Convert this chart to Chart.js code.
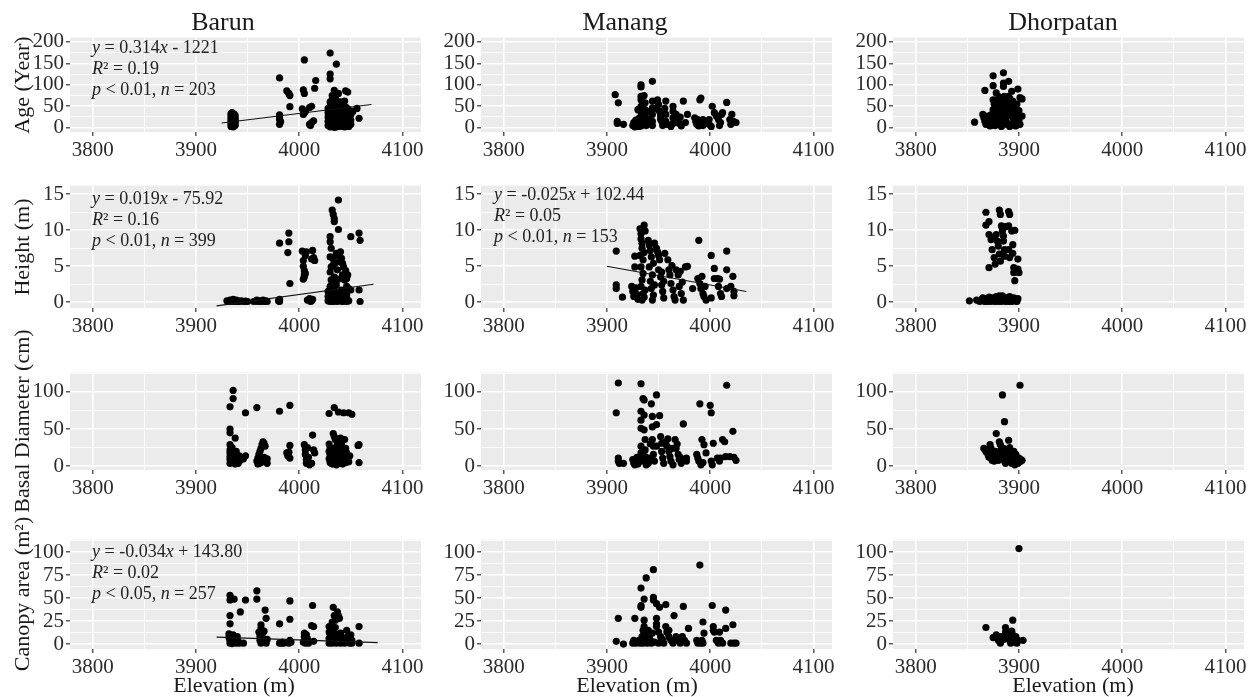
<!DOCTYPE html>
<html><head><meta charset="utf-8">
<script src="https://cdn.jsdelivr.net/npm/chart.js@4.4.0/dist/chart.umd.min.js"></script>
<style>
html,body{margin:0;padding:0;background:#fff;}
#wrap{position:relative;width:1254px;height:697px;overflow:hidden;font-family:'Liberation Serif','Times New Roman',serif;color:#1a1a1a;}
canvas{position:absolute;}
.t{position:absolute;white-space:nowrap;}
</style></head><body><div id="wrap"></div>
<script>
// ---------- labels & ticks ----------
const sites = ['Barun', 'Manang', 'Dhorpatan'];
const variables = ['Age (Year)', 'Height (m)', 'Basal Diameter (cm)', 'Canopy area (m²)'];
const xTitle = 'Elevation (m)';
const elevationTicks = [3800, 3900, 4000, 4100];
const elevationLimits = [3778, 4118];
const ageTicks = [0, 50, 100, 150, 200];
const heightTicks = [0, 5, 10, 15];
const basalTicks = [0, 50, 100];
const canopyTicks = [0, 25, 50, 75, 100];
const ageLimits = [-10, 210];
const heightLimits = [-0.8, 16.2];
const basalLimits = [-5, 126];
const canopyLimits = [-5.4, 113.8];

// ---------- data: [elevation, value] ----------
const barunAge = [[3934,3],[3934,8],[3934,13],[3934,18],[3934,23],[3934,28],[3934,33],[3935,5],[3935,10],[3935,15],[3935,20],[3935,25],[3935,30],[3935,35],[3936,2],[3936,7],[3936,12],[3936,17],[3936,22],[3936,27],[3937,4],[3937,9],[3937,14],[3937,19],[3937,24],[3937,32],[3938,6],[3938,11],[3938,16],[3938,21],[3938,28],
[3981,116],[3981,30],[3981,25],[3981,19],[3981,8],[3982,14],
[3988,86],[3990,80],[3991,75],[3991,49],
[4005,158],[4004,88],[4005,80],[4003,44],[4006,38],[4004,31],[4005,35],
[4010,8],[4012,12],[4014,16],[4010,47],[4012,50],[4011,5],
[4016,110],[4015,92],
[4030,174],[4030,125],[4030,114],[4036,148],[4034,87],
[4028,5],[4028,15],[4028,25],[4028,35],[4028,45],
[4030,2],[4030,10],[4030,20],[4030,30],[4030,40],[4030,50],[4030,60],
[4031,6],[4031,16],[4031,26],[4031,36],[4031,46],[4031,56],
[4032,3],[4032,12],[4032,22],[4032,32],[4032,42],[4032,52],[4032,65],[4032,75],
[4034,1],[4034,9],[4034,18],[4034,28],[4034,38],[4034,48],[4034,58],
[4035,5],[4035,14],[4035,24],[4035,34],[4035,44],[4035,54],[4035,70],
[4036,2],[4036,11],[4036,21],[4036,31],[4036,41],[4036,63],
[4038,6],[4038,16],[4038,26],[4038,36],[4038,46],[4038,56],[4038,80],
[4039,3],[4039,12],[4039,22],[4039,32],[4039,42],[4039,52],
[4040,8],[4040,18],[4040,28],[4040,38],[4040,48],[4040,60],
[4042,4],[4042,14],[4042,24],[4042,34],[4042,44],[4042,55],
[4044,2],[4044,10],[4044,20],[4044,30],[4044,40],[4044,50],[4044,62],
[4045,86],[4047,83],
[4046,6],[4046,16],[4046,26],[4046,36],[4046,46],
[4048,3],[4048,12],[4048,22],[4048,32],[4048,42],
[4050,8],[4050,18],[4050,30],
[4056,45],[4058,22],[4052,38]];

const barunHeight = [[3930,0.2],[3932,0.1],[3933,0.3],[3934,0.1],[3935,0.2],[3936,0.4],[3937,0.1],[3938,0.2],[3939,0.3],[3940,0.1],[3941,0.2],[3942,0.1],[3944,0.2],[3946,0.1],[3948,0.15],[3950,0.1],
[3956,0.1],[3958,0.2],[3959,0.3],[3960,0.1],[3962,0.2],[3963,0.1],[3965,0.3],[3966,0.1],[3968,0.2],[3969,0.1],
[3980,0.2],[3981,0.4],[3981,0.1],
[3981,8.2],[3990,9.6],[3990,8.4],[3989,6.9],[3991,2.6],
[4003,7.1],[4004,5.8],[4004,5.0],[4005,4.4],[4005,3.8],[4004,3.2],[4006,6.5],[4007,7.0],[4006,4.0],[4005,3.5],
[4008,0.3],[4010,0.5],[4012,0.2],[4011,0.1],[4013,0.4],
[4013,7.2],[4014,6.2],[4015,5.8],[4012,6.0],
[4030,9.1],[4030,8.4],[4031,7.5],[4030,6.3],[4031,4.9],[4030,4.2],[4031,3.1],[4030,2.2],
[4032,12.8],[4033,12.2],[4034,11.6],[4034,11.2],[4038,14.2],[4038,10.1],
[4028,0.2],[4028,0.8],[4028,1.5],[4029,0.4],[4029,1.1],[4030,0.1],[4030,0.6],[4030,1.3],[4031,0.3],[4031,0.9],[4031,1.8],[4032,0.2],[4032,0.7],[4032,1.4],[4033,0.1],[4033,0.5],[4033,1.0],[4033,2.0],[4034,0.3],[4034,0.8],[4034,1.6],[4035,0.2],[4035,0.6],[4035,1.2],[4036,0.4],[4036,1.0],[4036,2.4],[4037,0.1],[4037,0.7],[4038,0.3],[4038,1.4],[4039,0.5],[4039,1.1],[4040,0.2],[4040,0.9],[4041,0.4],[4041,1.7],[4042,0.1],[4042,0.6],[4043,0.3],[4043,1.3],[4044,0.2],[4044,0.8],[4045,0.5],[4046,0.1],[4046,1.0],[4047,0.3],[4048,0.2],
[4033,5.2],[4033,6.0],[4034,3.5],[4034,2.8],[4035,5.5],[4036,6.8],[4037,4.5],[4038,3.2],[4039,6.4],[4040,5.6],[4040,7.0],[4041,6.1],[4042,5.4],[4042,3.8],[4043,4.9],[4044,3.6],[4044,3.1],[4045,4.4],[4046,3.3],[4046,2.2],[4047,3.8],[4048,1.9],
[4050,9.1],[4058,9.6],[4059,8.6],[4058,1.7],[4059,0.1],[4050,1.7]];

const barunBasal = [[3933,80],[3933,50],[3933,45],[3933,29],[3933,22],[3933,18],[3933,13],[3933,9],[3933,4],
[3936,102],[3936,91],[3935,25],[3935,15],[3935,6],[3936,11],
[3938,38],[3939,20],[3940,11],[3940,7],[3941,4],[3942,14],[3943,8],[3937,17],[3938,3],
[3948,72],[3948,14],[3946,10],
[3959,79],
[3959,7],[3960,11],[3961,16],[3962,20],[3963,24],[3964,29],[3965,33],[3966,31],[3967,27],[3961,4],[3963,5],[3965,8],[3966,12],[3968,6],[3969,10],[3969,4],[3960,3],
[3981,74],
[3991,82],[3991,28],[3990,19],[3991,11],[3988,18],[3989,14],
[4005,29],[4006,22],[4006,16],[4007,9],[4007,4],[4008,25],[4009,12],[4010,2],
[4013,42],[4014,22],[4012,4],[4015,18],
[4029,71],[4034,79],[4038,73],[4043,72],[4048,72],[4051,70],
[4029,10],[4029,20],[4029,30],[4030,5],[4030,15],[4030,25],[4031,8],[4031,18],[4032,12],[4032,3],[4033,22],[4033,44],[4034,40],[4034,6],[4035,14],[4035,36],[4036,26],[4036,2],[4037,10],[4037,32],[4038,18],[4038,4],[4039,24],[4039,12],[4040,38],[4040,7],[4041,16],[4041,29],[4042,3],[4043,20],[4043,9],[4044,36],[4044,14],[4045,24],[4045,5],[4046,18],[4047,10],[4048,6],[4049,14],
[4058,29],[4058,5],[4057,28]];

const barunCanopy = [[3933,53],[3933,48],[3933,31],[3933,22],[3932,11],[3932,7],[3933,4],[3933,1],[3934,9],[3934,3],[3935,6],[3935,0.5],[3936,10],[3936,2],
[3937,49],[3943,35],[3948,48],[3938,5],[3939,1],[3940,8],[3941,3],[3942,1],[3946,1],
[3959,58],[3959,49],
[3963,21],[3963,17],[3961,13],[3962,8],[3962,4],[3963,1],[3964,10],[3965,6],[3965,2],[3966,14],[3967,3],[3968,1],[3969,5],
[3967,37],[3968,28],
[3981,22],[3981,1],[3983,1],[3985,1],[3984,2],
[3991,47],[3991,27],[3991,4],[3990,1],[3992,2],
[4005,12],[4005,8],[4006,4],[4006,1],[4007,10],[4008,6],[4009,3],[4009,1],[4004,2],
[4013,42],[4014,19],[4014,3],[4012,20],
[4029,19],[4029,13],[4029,6],[4029,1],[4030,10],[4030,3],[4031,16],[4031,8],[4032,1],[4032,24],[4033,40],[4033,5],[4034,31],[4034,12],[4034,2],[4035,26],[4035,18],[4035,7],[4036,1],[4036,4],[4037,35],[4037,10],[4038,31],[4038,3],[4039,28],[4039,6],[4040,12],[4040,1],[4041,4],[4041,8],[4042,2],[4043,3],[4043,6],[4044,1],[4046,15],[4047,8],[4048,3],[4049,1],[4050,10],[4051,4],[4051,1],
[4058,19],[4058,1]];

const manangAge = [[3908,77],[3911,58],[3910,15],[3910,10],[3916,8],
[3925,5],[3926,12],[3927,2],[3928,18],[3929,8],[3930,42],[3930,14],[3931,3],[3931,22],
[3933,100],[3933,95],[3933,73],[3933,65],[3933,50],[3933,35],[3933,23],[3933,12],[3933,4],
[3936,75],[3937,58],[3937,42],[3937,27],[3938,15],[3938,5],[3935,30],[3935,55],
[3944,108],[3944,62],[3944,46],[3944,31],[3944,15],[3944,5],[3941,20],[3942,38],[3940,9],
[3949,65],[3950,54],[3951,38],[3952,27],[3953,15],[3954,5],[3948,44],[3952,20],
[3957,62],[3957,31],[3957,15],[3958,8],[3956,45],
[3964,50],[3964,38],[3964,23],[3964,10],[3962,3],
[3967,31],[3969,19],[3970,10],[3972,4],[3971,25],
[3974,62],[3978,31],[3976,12],
[3985,23],[3986,15],[3987,8],[3988,19],[3989,4],
[3990,65],[3991,69],[3993,19],[3993,12],[3993,5],[3996,10],
[3999,19],[3999,8],[4002,50],[4001,3],
[4004,35],[4006,27],[4008,19],[4010,12],[4011,31],[4012,35],[4009,5],
[4016,59],[4019,19],[4020,8],[4021,31],[4023,14],[4025,12]];

const manangHeight = [[3909,7.1],[3909,2.4],[3909,1.9],[3915,0.7],
[3924,2.2],[3925,1.5],[3926,0.8],[3927,6.4],[3927,4.9],[3928,2.0],[3929,1.1],[3930,0.4],
[3932,10.2],[3933,9.5],[3933,8.8],[3934,8.2],[3934,7.5],[3932,6.5],[3935,5.9],[3933,4.9],[3935,4.0],[3934,3.1],[3933,2.2],[3935,1.2],[3934,0.3],[3936,10.7],[3937,9.9],[3936,6.9],[3937,1.7],[3936,0.7],
[3940,8.6],[3941,7.9],[3942,7.2],[3943,6.3],[3941,4.9],[3944,3.8],[3942,2.9],[3943,1.9],[3945,1.0],[3944,0.3],[3946,8.2],[3945,5.4],[3946,2.4],
[3948,7.5],[3950,6.5],[3951,5.9],[3950,4.5],[3952,3.5],[3953,2.4],[3954,1.5],[3955,0.6],[3949,7.0],[3956,6.8],[3953,4.2],[3955,2.9],
[3959,5.9],[3960,4.5],[3961,3.8],[3962,2.6],[3964,1.7],[3965,0.8],[3963,5.1],[3966,0.3],
[3967,4.5],[3969,3.8],[3970,2.2],[3972,1.2],[3974,0.3],[3971,4.3],[3973,2.8],
[3976,4.9],[3978,5.0],[3983,1.9],
[3989,8.6],[3988,3.3],[3990,2.6],[3991,1.9],[3993,1.2],[3994,0.8],[3996,0.3],[3992,3.6],[3995,2.2],
[4001,6.5],[4001,0.6],[4004,4.7],[4004,3.3],
[4007,3.3],[4008,2.2],[4010,1.2],[4011,0.8],[4009,3.2],
[4016,7.1],[4016,4.5],[4016,1.9],[4022,3.6],[4023,1.5],[4023,0.9],[4020,2.2]];

const manangBasal = [[3909,72],[3911,112],[3911,11],[3911,7],[3912,4],[3916,4],
[3925,9],[3926,4],[3927,2],[3928,6],[3929,12],[3930,3],[3931,8],
[3933,111],[3933,74],[3933,62],[3933,51],[3933,27],[3933,18],[3933,11],[3933,7],
[3935,91],[3936,89],[3936,69],[3936,49],[3937,36],[3937,22],[3937,13],[3938,7],[3938,2],
[3943,84],[3944,67],[3944,53],[3944,36],[3945,27],[3945,16],[3946,7],[3942,30],[3941,11],[3940,4],
[3948,96],[3948,56],[3948,27],
[3951,68],[3952,40],[3953,31],[3953,20],[3954,11],[3955,4],
[3957,33],[3958,27],[3960,20],[3961,13],[3962,7],[3964,2],[3959,37],[3963,24],
[3966,36],[3967,24],[3969,16],[3970,9],[3972,4],[3968,30],[3971,12],
[3974,57],[3977,11],[3977,7],
[3987,16],[3988,11],[3989,7],[3991,2],[3990,84],[3992,36],[3994,29],[3996,18],[3993,5],
[4000,82],[4001,72],[4001,7],[4002,2],[4003,31],
[4007,11],[4009,7],[4010,11],
[4012,36],[4014,33],[4015,13],[4016,109],[4019,13],[4022,47],[4025,8],[4023,12]];

const manangCanopy = [[3909,3],[3911,28],[3916,0],
[3925,1],[3926,4],[3927,28],[3928,1],[3930,2],[3931,4],[3932,1],
[3933,61],[3933,42],[3933,40],[3936,49],[3936,26],[3936,19],[3938,72],
[3935,15],[3936,12],[3937,8],[3938,4],[3939,1],[3940,15],[3941,8],[3942,4],[3943,1],[3944,12],[3934,8],[3935,1],[3937,2],
[3945,81],[3945,51],[3945,48],[3948,28],[3948,44],[3948,22],[3951,40],[3957,43],
[3948,19],[3950,13],[3952,8],[3954,4],[3955,1],[3957,19],[3958,13],[3960,8],[3962,4],[3964,1],[3960,15],[3946,2],[3950,1],[3953,6],
[3965,31],[3967,8],[3969,4],[3971,1],[3973,8],[3975,4],[3977,1],
[3974,41],[3979,17],
[3987,4],[3988,1],[3990,86],[3991,1],[3992,4],[3993,24],[3994,12],[3993,1],
[4002,42],[4003,19],[4003,15],[4004,13],[4006,4],[4008,1],[4009,13],[4010,4],[4012,1],
[4015,37],[4015,17],[4020,1],[4022,21],[4023,1],[4025,1]];

const dhorpatanAge = [[3857,13],[3865,31],[3866,23],[3867,15],[3868,8],[3867,87],[3870,27],[3871,12],[3872,4],
[3875,121],[3875,98],[3875,65],[3875,42],[3875,27],[3875,12],
[3878,81],[3879,65],[3879,50],[3880,35],[3880,19],[3881,8],[3882,58],[3883,42],[3884,27],[3884,12],[3886,73],[3886,50],[3887,35],[3887,19],[3888,8],
[3885,128],[3885,104],[3885,96],
[3890,108],[3890,73],[3890,42],[3889,60],
[3891,69],[3892,54],[3893,38],[3894,23],[3895,12],[3896,5],[3897,46],[3898,31],[3893,85],
[3899,90],[3903,67],[3903,27],[3900,17],[3901,8],[3877,5],[3883,3],[3891,3],
[3869,20],[3872,18],[3873,30],[3876,55],[3877,45],[3878,22],[3881,72],[3882,30],[3884,48],[3885,62],[3886,20],[3888,55],[3889,28],[3892,40],[3894,62],[3895,50],[3896,30],[3897,16],[3898,55],[3899,22],[3900,40],[3901,70],[3874,6],[3889,10],[3897,4]];

const dhorpatanHeight = [[3852,0.2],[3859,0.3],[3862,0.1],[3864,0.4],[3866,0.2],[3868,0.5],[3870,0.1],[3872,0.3],[3874,0.6],[3876,0.2],[3878,0.8],[3880,0.1],[3882,0.4],[3884,0.9],[3886,0.3],[3888,0.6],[3890,0.1],[3892,0.5],[3894,0.2],[3896,0.4],[3898,0.1],[3898,0.3],[3873,0.1],[3887,0.1],
[3865,0.6],[3867,0.1],[3869,0.3],[3871,0.7],[3875,0.4],[3877,0.1],[3879,0.5],[3881,0.9],[3883,0.1],[3885,0.6],[3889,0.3],[3891,0.8],[3893,0.1],[3895,0.6],[3897,0.2],[3899,0.5],
[3868,12.5],[3868,10.7],[3871,11.2],[3871,9.4],[3871,4.8],
[3873,8.7],[3874,7.3],[3876,6.2],[3877,5.3],[3875,9.0],
[3878,9.4],[3879,8.5],[3880,7.8],[3881,6.7],[3882,5.7],
[3881,12.8],[3882,12.2],
[3883,10.6],[3884,9.9],[3885,9.2],[3885,8.5],[3886,7.3],[3886,6.4],[3884,10.3],[3887,10.5],
[3890,12.6],[3891,12.2],[3890,10.6],[3890,7.3],[3891,6.2],
[3893,9.9],[3894,8.0],[3895,4.8],[3895,4.1],[3896,3.0],[3896,10.0],[3894,6.8],
[3899,6.0],[3899,4.6],[3900,4.1]];

const dhorpatanBasal = [[3866,24],[3868,20],[3869,22],
[3872,29],[3873,24],[3874,18],[3875,11],[3876,7],[3877,14],
[3878,44],[3884,96],[3886,60],
[3881,33],[3882,29],[3883,22],[3884,16],[3885,11],[3886,7],[3887,4],[3888,19],[3889,13],[3890,35],[3891,25],[3892,9],[3893,4],[3894,15],
[3895,20],[3896,13],[3897,9],[3898,7],[3899,4],[3900,11],[3901,6],[3902,9],[3896,2],
[3901,109],[3903,8],[3880,8],[3879,19],
[3870,16],[3871,12],[3874,8],[3877,20],[3879,12],[3882,16],[3885,24],[3887,14],[3889,8],[3891,18],[3893,12],[3895,7],[3897,16],[3899,11]];

const dhorpatanCanopy = [[3900,104],[3868,18],[3875,7],[3878,10],[3880,4],[3882,1],[3887,18],[3887,13],[3888,12],[3890,8],[3891,4],[3892,1],[3894,26],[3894,10],[3895,6],[3896,2],[3897,8],[3898,1],[3899,4],[3904,4],[3885,5],[3883,8],[3893,14]];

// regression lines (endpoints)
const barunAgeFit = [[3925, 11], [4070, 54]];
const barunHeightFit = [[3920, -0.5], [4072, 2.5]];
const manangHeightFit = [[3900, 5.0], [4035, 1.5]];
const barunCanopyFit = [[3920, 7.5], [4076, 1.5]];

// regression annotations
const barunAgeNote = ['<i>y</i> = 0.314<i>x</i> - 1221', '<i>R</i>² = 0.19', '<i>p</i> &lt; 0.01, <i>n</i> = 203'];
const barunHeightNote = ['<i>y</i> = 0.019<i>x</i> - 75.92', '<i>R</i>² = 0.16', '<i>p</i> &lt; 0.01, <i>n</i> = 399'];
const manangHeightNote = ['<i>y</i> = -0.025<i>x</i> + 102.44', '<i>R</i>² = 0.05', '<i>p</i> &lt; 0.01, <i>n</i> = 153'];
const barunCanopyNote = ['<i>y</i> = -0.034<i>x</i> + 143.80', '<i>R</i>² = 0.02', '<i>p</i> &lt; 0.05, <i>n</i> = 257'];

// ---------- assembly ----------
const rowTicks = [ageTicks, heightTicks, basalTicks, canopyTicks];
const rowLimits = [ageLimits, heightLimits, basalLimits, canopyLimits];
const panels = [
  [{pts: barunAge, fit: barunAgeFit, note: barunAgeNote}, {pts: manangAge}, {pts: dhorpatanAge}],
  [{pts: barunHeight, fit: barunHeightFit, note: barunHeightNote}, {pts: manangHeight, fit: manangHeightFit, note: manangHeightNote}, {pts: dhorpatanHeight}],
  [{pts: barunBasal}, {pts: manangBasal}, {pts: dhorpatanBasal}],
  [{pts: barunCanopy, fit: barunCanopyFit, note: barunCanopyNote}, {pts: manangCanopy}, {pts: dhorpatanCanopy}]
];

// layout (pixels)
const colLeft = [70, 481, 893], panelW = 351;
const rowTop = [37, 185, 372, 539], rowH = [95, 123, 98, 110];
const AXW = 50, PADT = 14, PADR = 30, AXH = 34;
const FONT = "'Liberation Serif', 'Times New Roman', serif";
const wrap = document.getElementById('wrap');

function withMinor(major, lim) {
  const half = (major[1] - major[0]) / 2;
  const out = [];
  for (let v = major[0] - half; v <= major[major.length - 1] + half + 1e-9; v += half) {
    if (v >= lim[0] && v <= lim[1]) out.push({value: v, major: major.some(m => Math.abs(m - v) < 1e-9)});
  }
  return out;
}

const bgPlugin = {
  id: 'panelBg',
  beforeDraw(chart) {
    const {ctx, chartArea: a} = chart;
    ctx.save();
    ctx.fillStyle = '#EBEBEB';
    ctx.fillRect(a.left, a.top, a.right - a.left, a.bottom - a.top);
    ctx.restore();
  }
};

function axisCommon(tickList) {
  return {
    type: 'linear',
    border: {display: false},
    afterBuildTicks: s => { s.ticks = tickList.map(t => ({value: t.value, major: t.major})); },
    grid: {
      color: '#FFFFFF',
      lineWidth: c => (c.tick && c.tick.major) ? 1.6 : 0.8,
      tickColor: c => (c.tick && c.tick.major) ? '#333333' : 'rgba(0,0,0,0)',
      tickLength: 4,
      tickWidth: 1.2,
      drawTicks: true
    },
    ticks: {
      autoSkip: false, maxRotation: 0, color: '#2b2b2b',
      font: {family: FONT, size: 21},
      callback: (v, i, t) => (t[i] && t[i].major) ? String(v) : ''
    }
  };
}

function makeChart(r, c) {
  const p = panels[r][c];
  const cv = document.createElement('canvas');
  const w = AXW + panelW + PADR, h = PADT + rowH[r] + AXH;
  cv.width = w; cv.height = h;
  cv.style.left = (colLeft[c] - AXW) + 'px';
  cv.style.top = (rowTop[r] - PADT) + 'px';
  cv.style.width = w + 'px'; cv.style.height = h + 'px';
  wrap.appendChild(cv);

  const datasets = [];
  if (p.fit) datasets.push({type: 'line', data: p.fit.map(([x, y]) => ({x, y})), borderColor: '#111', borderWidth: 1.1, pointRadius: 0, fill: false, tension: 0});
  datasets.push({type: 'scatter', data: p.pts.map(([x, y]) => ({x, y})), backgroundColor: '#000', borderWidth: 0, pointRadius: 3.6, pointHoverRadius: 3.6});

  const xs = axisCommon(withMinor(elevationTicks, elevationLimits));
  xs.min = elevationLimits[0]; xs.max = elevationLimits[1];
  xs.afterFit = s => { s.height = AXH; };
  xs.ticks.padding = 2;
  const ys = axisCommon(withMinor(rowTicks[r], rowLimits[r]));
  ys.min = rowLimits[r][0]; ys.max = rowLimits[r][1];
  ys.afterFit = s => { s.width = AXW; };
  ys.ticks.padding = 2;

  new Chart(cv, {
    type: 'scatter',
    data: {datasets},
    options: {
      responsive: false, animation: false, devicePixelRatio: 1, events: [],
      layout: {padding: {top: PADT, right: PADR, left: 0, bottom: 0}},
      plugins: {legend: {display: false}, tooltip: {enabled: false}},
      scales: {x: xs, y: ys}
    },
    plugins: [bgPlugin]
  });
}

for (let r = 0; r < 4; r++) for (let c = 0; c < 3; c++) makeChart(r, c);

function addText(html, style) {
  const d = document.createElement('div');
  d.className = 't';
  d.innerHTML = html;
  Object.assign(d.style, style);
  wrap.appendChild(d);
}

// site titles
const siteTitleX = [223, 625, 1063];
sites.forEach((s, i) => addText(s, {left: siteTitleX[i] + 'px', top: '22px', fontSize: '26px', transform: 'translate(-50%,-50%)'}));
// y titles
variables.forEach((v, r) => addText(v, {left: '22px', top: (rowTop[r] + rowH[r] / 2) + 'px', fontSize: '22px', transform: 'translate(-50%,-50%) rotate(-90deg)'}));
// x titles
const xTitleX = [234, 637, 1073];
xTitleX.forEach(x => addText(xTitle, {left: x + 'px', top: '685px', fontSize: '22px', transform: 'translate(-50%,-50%)'}));
// annotations
const noteAnchors = [[0, 0, 92, 37], [1, 0, 92, 188], [1, 1, 494, 184], [3, 0, 92, 541]];
noteAnchors.forEach(([r, c, x, y]) => addText(panels[r][c].note.join('<br>'), {left: x + 'px', top: y + 'px', fontSize: '18px', lineHeight: '21px', color: '#222'}));
</script>
</body></html>
